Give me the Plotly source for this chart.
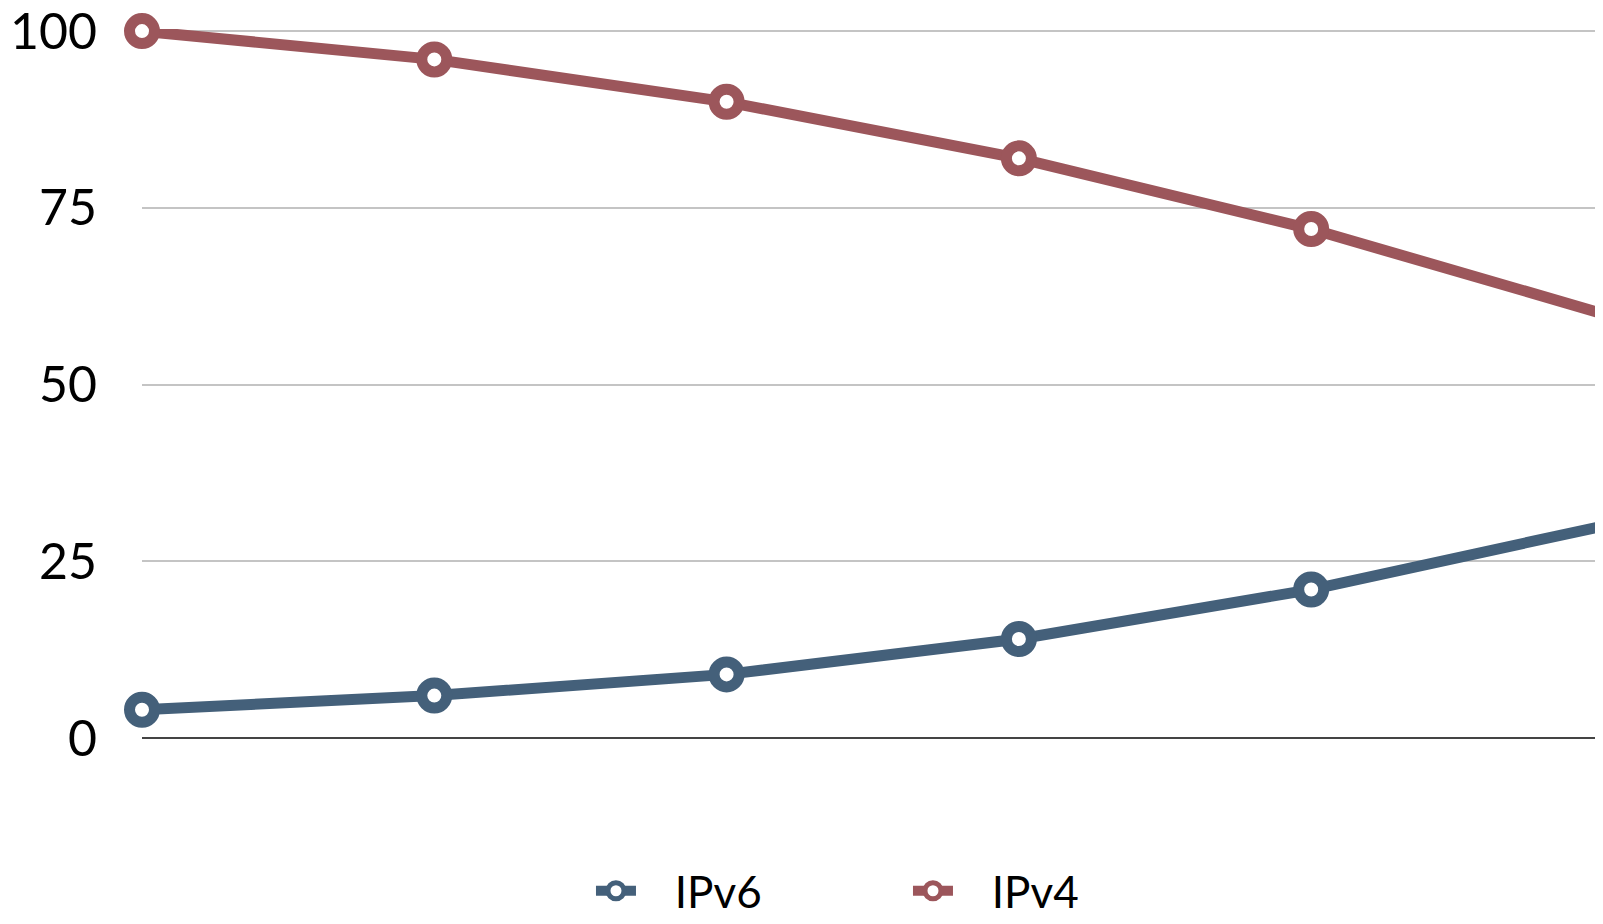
import plotly.graph_objects as go

x_index = [0, 1, 2, 3, 4, 5]
ipv6_values = [4, 6, 9, 14, 21, 30]
ipv4_values = [100, 96, 90, 82, 72, 60]
series_names = ["IPv6", "IPv4"]
y_ticks = [0, 25, 50, 75, 100]
y_ticklabels = ["0", "25", "50", "75", "100"]

COL6 = "#44607a"
COL4 = "#9c565b"
PAD = "\u00a0" * 3

fig = go.Figure()
for name, vals, col in [(series_names[0], ipv6_values, COL6), (series_names[1], ipv4_values, COL4)]:
    fig.add_trace(go.Scatter(
        x=x_index, y=vals, name=PAD + name, mode="lines+markers",
        line=dict(color=col, width=11),
        marker=dict(symbol="circle", size=25, color="white", line=dict(color=col, width=11)),
        cliponaxis=False,
    ))

# page body has an 8px margin in the browser; figure sized to fit inside the window
fig.update_layout(
    width=1587, height=908,
    margin=dict(l=134, r=0, t=21, b=177.5, autoexpand=False),
    paper_bgcolor="white", plot_bgcolor="white",
    font=dict(family="Lato, sans-serif", color="black"),
    showlegend=True,
    legend=dict(orientation="h", x=0.309, xanchor="left", y=-0.216, yanchor="middle",
                font=dict(size=44), entrywidth=262, entrywidthmode="pixels",
                itemwidth=40, bgcolor="rgba(0,0,0,0)"),
    xaxis=dict(range=[0, 4.971], showgrid=False, zeroline=False, showticklabels=False,
               showline=False, ticks="", automargin=False),
    yaxis=dict(range=[0, 100.3], tickvals=y_ticks, ticktext=y_ticklabels,
               showgrid=True, gridcolor="#c4c4c4", gridwidth=1.5,
               zeroline=True, zerolinecolor="#444444", zerolinewidth=2,
               tickfont=dict(size=50), ticks="", ticklabelstandoff=44,
               ticklabeloverflow="allow",
               showline=False, automargin=False),
)

fig.write_html("out.html")
